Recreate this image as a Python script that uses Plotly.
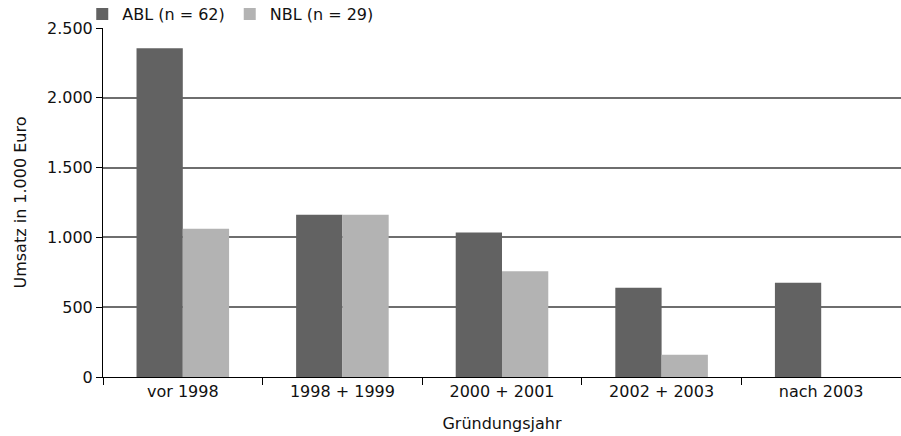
import plotly.graph_objects as go

categories = ["vor 1998", "1998 + 1999", "2000 + 2001", "2002 + 2003", "nach 2003"]
abl_values = [2355, 1162, 1035, 640, 676]
nbl_values = [1062, 1162, 757, 160, None]
series_names = ["ABL (n = 62)", "NBL (n = 29)"]
y_ticks = [0, 500, 1000, 1500, 2000, 2500]

FONT = "DejaVu Sans"

fig = go.Figure()
fig.add_trace(go.Bar(x=categories, y=abl_values, name=series_names[0],
                     marker=dict(color="#626262", line=dict(width=0))))
fig.add_trace(go.Bar(x=categories, y=nbl_values, name=series_names[1],
                     marker=dict(color="#b3b3b3", line=dict(width=0))))

fig.update_layout(
    width=901, height=436,
    margin=dict(l=103, r=0, t=28, b=59, autoexpand=False),
    paper_bgcolor="white", plot_bgcolor="white",
    separators=",.",
    barmode="group", bargap=0.42, bargroupgap=0,
    font=dict(family=FONT, size=16, color="#111111"),
    showlegend=True,
    legend=dict(orientation="h", x=-0.026, xanchor="left", y=0.991, yanchor="bottom",
                font=dict(size=16), bgcolor="rgba(0,0,0,0)",
                traceorder="normal", itemwidth=30, tracegroupgap=0),
    xaxis=dict(
        type="category", showline=True, linecolor="black", linewidth=1,
        ticks="outside", tickson="boundaries", ticklen=7, tickcolor="black",
        showgrid=False, tickfont=dict(size=16), automargin=False,
        title=dict(text="Gründungsjahr", font=dict(size=16), standoff=17),
    ),
    yaxis=dict(
        range=[0, 2500], tickvals=y_ticks, tickformat=",d",
        showline=True, linecolor="black", linewidth=1,
        ticks="outside", ticklen=6, tickcolor="black",
        showgrid=True, gridcolor="#6e6e6e", gridwidth=1.5, zeroline=False,
        tickfont=dict(size=16), automargin=False,
        title=dict(text="Umsatz in 1.000 Euro", font=dict(size=16), standoff=16),
    ),
)

fig.write_html(
    "out.html",
    config={"responsive": False, "displayModeBar": False},
    post_script="document.body.style.margin='0';document.body.style.overflow='hidden';",
)
